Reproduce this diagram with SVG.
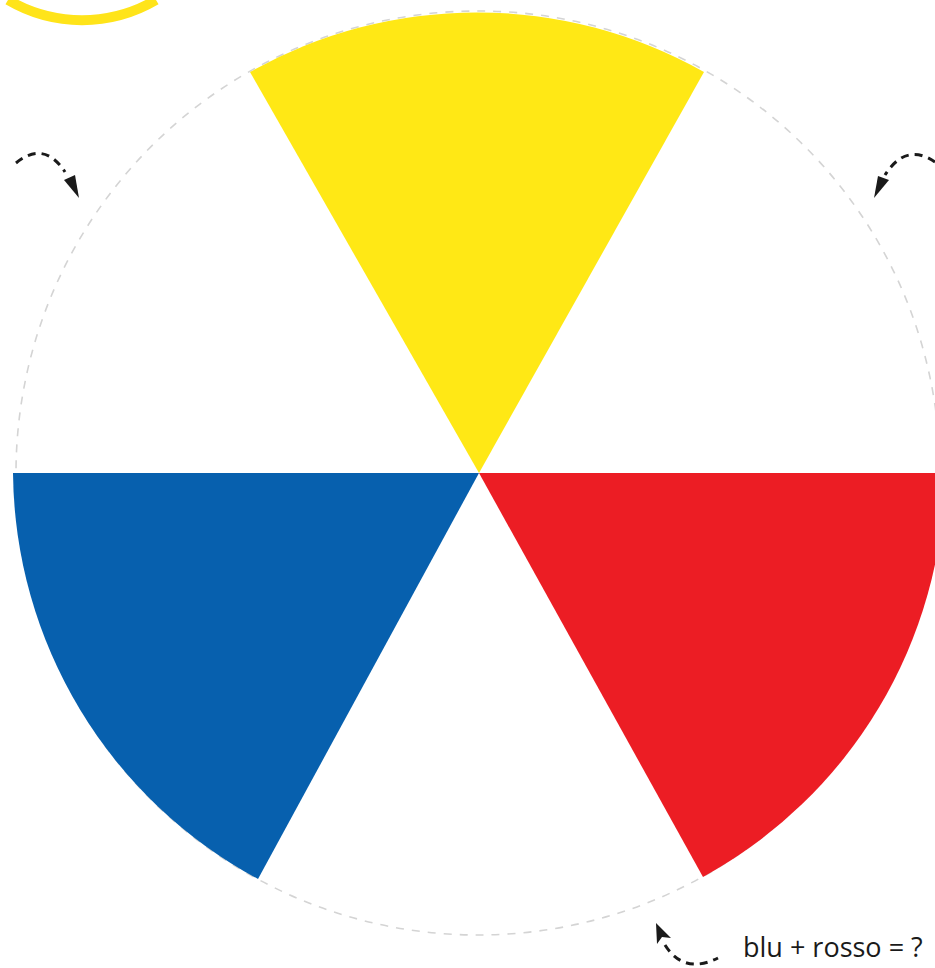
<svg xmlns="http://www.w3.org/2000/svg" width="935" height="968" viewBox="0 0 935 968">
<style>
.guide{fill:none;stroke:#d4d4d4;stroke-width:1.6;stroke-dasharray:8 8}
.arrow{fill:none;stroke:#1a1a1a;stroke-width:3;stroke-dasharray:8 6}
.head{fill:#1a1a1a}
.label{font-family:"Open Sans","Liberation Sans",sans-serif;font-size:27px;fill:#1a1a1a}
</style>
<rect width="935" height="968" fill="#ffffff"/>
<path id="yellow-ring" d="M8,0 A146 146 0 0 0 156,0" fill="none" stroke="#ffe41a" stroke-width="10"/>
<circle class="guide" cx="478" cy="473" r="462"/>
<g id="yellow"><path d="M479,473 L250,72 A462 462 0 0 1 704,72 Z" fill="#ffe815"/></g>
<g id="blue"><path d="M479,473 L13,473 A466 466 0 0 0 258,879 Z" fill="#0760ae"/></g>
<g id="red"><path d="M479,473 L945,473 A466 466 0 0 1 703,877 Z" fill="#ec1d24"/></g>
<g id="connectors">
<path class="arrow" d="M16,163 Q44,140 65,172"/>
<path class="head" d="M64,180 L79,198 L75,175 Z"/>
<path class="arrow" d="M935,162 Q906,142 885,175"/>
<path class="head" d="M878,176 L874,198 L889,180 Z"/>
<path class="arrow" d="M665,945 Q684,975 718,958"/>
<path class="head" d="M656,923 L657,944 L662,937 L671,938 Z"/>
</g>
<g id="caption"><text class="label" x="743" y="957">blu + rosso = ?</text></g>
</svg>
